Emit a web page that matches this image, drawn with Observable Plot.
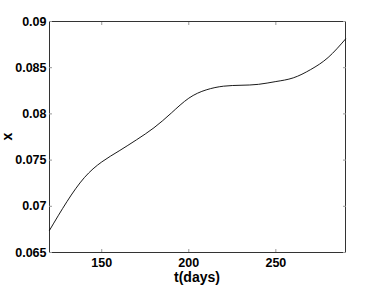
<!DOCTYPE html>
<html>
<head>
<meta charset="utf-8">
<script src="https://cdn.jsdelivr.net/npm/d3@7"></script>
<script src="https://cdn.jsdelivr.net/npm/@observablehq/plot@0.6"></script>
<style>
  html, body { margin: 0; padding: 0; background: #fff; }
  #chart svg { display: block; }
</style>
</head>
<body>
<div id="chart"></div>
<script>
const tDays = [120, 130, 140, 150, 160, 170, 180, 190, 200, 210, 220, 230, 240, 250, 260, 270, 280, 290];
const xValues = [0.0674, 0.0705, 0.0731, 0.0748, 0.0760, 0.0772, 0.0785, 0.0801, 0.0817, 0.0826, 0.0830, 0.0831, 0.0832, 0.0835, 0.0839, 0.0848, 0.0861, 0.0881];
const xTicks = [150, 200, 250];
const yTicks = [0.065, 0.07, 0.075, 0.08, 0.085, 0.09];
const yTickLabels = ["0.065", "0.07", "0.075", "0.08", "0.085", "0.09"];

const data = tDays.map((t, i) => ({t, x: xValues[i]}));

const chart = Plot.plot({
  width: 382,
  height: 287,
  marginLeft: 49,
  marginRight: 37,
  marginTop: 21,
  marginBottom: 35,
  style: {fontFamily: "'Liberation Sans', Arial, sans-serif", fontSize: "12.5px", fontWeight: "bold", color: "#000", background: "#fff"},
  x: {domain: [120, 290]},
  y: {domain: [0.065, 0.09]},
  marks: [
    Plot.frame({stroke: "#333", strokeWidth: 1}),
    Plot.axisX(xTicks, {anchor: "bottom", tickSize: 0, tickPadding: 6, label: null}),
    Plot.axisX(xTicks, {anchor: "bottom", tickSize: -3, text: null, label: null, stroke: "#999"}),
    Plot.axisX(xTicks, {anchor: "top", tickSize: -3, text: null, label: null, stroke: "#999"}),
    Plot.axisY(yTicks, {anchor: "left", tickSize: 0, tickPadding: 3, tickFormat: (d) => yTickLabels[yTicks.indexOf(d)], label: null}),
    Plot.axisY(yTicks, {anchor: "left", tickSize: -3, text: null, label: null, stroke: "#999"}),
    Plot.axisY(yTicks, {anchor: "right", tickSize: -3, text: null, label: null, stroke: "#999"}),
    Plot.line(data, {x: "t", y: "x", curve: "natural", stroke: "#000", strokeWidth: 0.9})
  ]
});

// axis titles
const svg = d3.select(chart);
svg.append("text")
  .attr("x", (49 + 345) / 2).attr("y", 282)
  .attr("text-anchor", "middle")
  .style("font-size", "14px").style("font-weight", "bold")
  .text("t(days)");
svg.append("text")
  .attr("transform", `translate(12,${(21 + 252) / 2}) rotate(-90)`)
  .attr("text-anchor", "middle")
  .style("font-size", "14px").style("font-weight", "bold")
  .text("x");

document.getElementById("chart").appendChild(chart);
</script>
</body>
</html>
